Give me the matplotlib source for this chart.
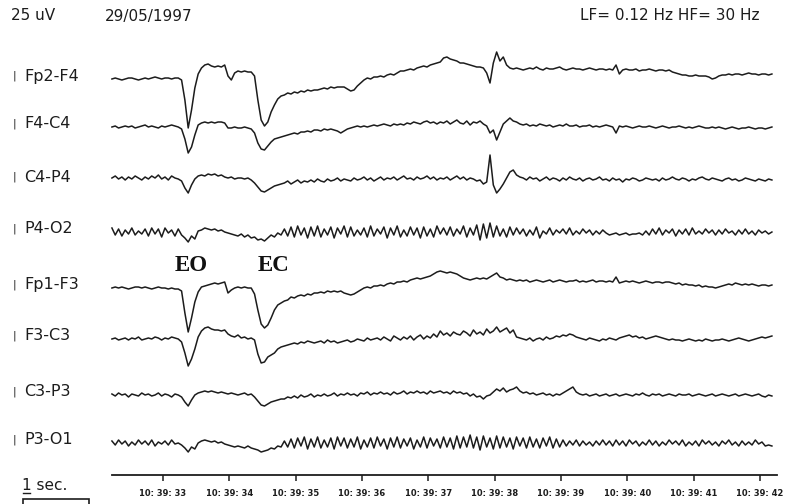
import numpy as np
import matplotlib
matplotlib.use("Agg")
import matplotlib.pyplot as plt
from matplotlib.patches import Rectangle
from matplotlib.lines import Line2D

# ---------------- data ----------------
channels = ["Fp2-F4", "F4-C4", "C4-P4", "P4-O2", "Fp1-F3", "F3-C3", "C3-P3", "P3-O1"]
t_start = 32.23        # seconds (10:39:32.23)
dt = 0.05              # sample step, s
tick_seconds = [33, 34, 35, 36, 37, 38, 39, 40, 41, 42]
tick_labels = ["10: 39: %d" % s for s in tick_seconds]
event_labels = ["EO", "EC"]
event_times = [33.42, 34.67]

fp2f4 = [0,1,0,-1,0,1,1,0,-1,0,1,0,1,2,1,0,1,1,0,1,
         1,-1,-21,-49,-31,-9,5,11,14,15,13,12,13,12,14,3,-1,6,8,7,8,7,7,3,-21,-41,-47,-43,-33,-26,-20,-17,
         -16,-14,-15,-13,-14,-12,-13,-11,-12,-11,
         -11,-10,-9,-10,-8,-9,-8,-8,
         -8,-10,-12,-11,-7,-4,-1,1,0,2,
         2,3,2,4,5,4,6,8,
         8,9,10,9,11,12,13,12,14,15,16,17,
         21,22,20,19,18,16,16,15,14,13,12,12,11,6,-4,16,27,18,22,14,
         11,10,11,10,9,10,11,10,12,10,9,11,10,10,11,12,10,9,10,11,10,10,9,10,11,10,9,10,10,9,10,
         9,14,5,
         9,10,9,9,10,8,9,9,10,9,8,9,9,8,9,
         7,6,5,4,4,3,3,4,3,3,3,2,0,1,3,4,4,5,4,5,5,4,5,6,5,5,4,5,5,4,5]

f4c4 = [0,1,-1,0,1,0,1,-1,0,1,2,0,1,0,-1,1,0,1,2,1,0,
        -2,-12,-26,-20,-8,2,4,5,4,5,4,5,5,4,-1,-1,0,-1,-1,0,-1,-2,-6,-16,-22,-23,-19,-15,-12,-11,-10,
        -9,-8,-7,-6,-7,-5,-5,-4,-5,-3,
        -3,-4,-2,-3,-2,-3,-4,-6,
        -4,-2,-1,0,1,0,1,0,1,2,
        1,2,3,2,1,3,2,3,
        2,4,3,5,4,3,5,6,4,5,3,5,
        4,6,3,5,7,4,3,6,2,5,4,6,3,
        1,-6,-3,-13,-5,3,6,9,6,5,3,
        2,3,1,2,1,3,2,1,2,0,1,2,1,3,1,1,2,0,1,1,2,0,1,0,1,2,1,
        0,-6,1,
        0,1,0,-1,0,1,0,0,1,0,-1,0,1,0,-1,0,0,1,0,-1,0,-1,0,1,0,-1,-1,0,-1,0,
        -1,-2,-1,0,-1,-2,-1,-1,0,-1,-2,-1,-1,-2,-1,0]

c4p4 = [2,4,1,3,0,3,1,4,2,0,3,1,4,2,5,1,3,0,4,2,1,
        -1,-8,-13,-5,1,4,5,4,6,5,6,4,5,3,2,3,1,2,2,1,2,0,-3,-7,-11,-12,-10,-8,-6,-5,-4,
        -3,-1,-4,-2,0,-3,-1,-2,0,-2,1,-1,-2,1,-1,0,2,-1,1,0,-1,2,0,1,3,0,2,-1,1,3,
        0,2,1,3,0,2,4,1,2,0,3,1,2,4,1,3,0,2,
        1,3,0,2,4,1,3,0,2,1,-1,0,
        -4,-2,25,-5,-13,-9,-4,2,8,10,5,3,
        2,0,3,1,2,-1,1,3,0,2,1,-1,2,0,3,1,0,2,-1,1,2,0,1,3,0,1,-1,2,0,1,
        -2,1,0,2,1,-1,0,2,1,0,1,-1,2,0,1,3,1,0,2,1,-1,1,0,2,3,1,0,2,1,0,
        -1,1,2,0,1,-1,0,2,1,0,-1,1,0,-1,1,0]

p4o2 = [4,-3,3,-4,2,-2,4,-3,1,-2,3,-4,4,-2,3,-5,4,-1,2,-4,3,
        -3,-6,-10,-4,-7,1,2,4,3,2,3,1,2,0,
        -1,-2,-3,-4,-2,-5,-3,-6,
        -5,-8,-7,-9,-6,-3,-5,-1,-3,
        3,-4,5,-5,6,-3,4,-6,5,-4,6,-5,3,-3,5,-6,4,-2,6,-5,5,-4,2,-3,4,-5,6,-4,3,-2,
        5,-6,4,-3,6,-5,2,-4,5,-3,4,-6,5,-4,3,-5,6,-2,
        4,-3,5,-4,3,-2,6,-5,4,-3,7,-8,8,-6,9,-5,6,-4,3,-5,5,-3,4,-2,
        3,-4,2,-3,5,-6,1,-2,4,-3,2,-1,3,-2,4,-3,1,-2,3,-1,2,-3,1,-2,2,-1,-3,
        -2,-1,-3,-2,-1,-3,-2,-2,-1,-3,
        1,-3,3,-2,4,-3,2,-1,3,-4,2,-2,3,-3,4,-2,1,-2,3,-1,2,-3,2,-2,3,-1,1,-3,2,-2,
        3,-2,1,-3,2,-1,1,-2,0]

fp1f3 = [0,1,0,1,0,-1,0,1,1,0,1,0,-1,0,1,0,0,-1,0,-1,-1,
         -3,-25,-44,-30,-14,-4,1,2,3,4,5,4,5,6,
         -5,-2,0,1,0,1,0,0,
         -6,-22,-36,-40,-37,-30,-22,-17,-15,
         -13,-12,-9,-10,-8,-7,-8,-6,-7,-5,
         -5,-4,-5,-3,-4,-3,-4,-3,
         -5,-6,-7,-6,-4,-2,0,1,0,2,
         2,3,2,4,5,4,6,6,
         7,6,8,9,10,9,10,11,12,14,16,17,
         16,15,16,15,14,12,10,9,8,9,10,9,10,
         9,11,13,15,11,10,8,9,8,7,8,
         7,8,6,7,8,7,6,7,8,6,7,8,7,6,7,7,8,6,7,6,7,8,6,7,7,6,7,
         6,11,5,
         6,7,6,7,6,5,6,7,6,5,6,6,5,6,6,
         5,4,5,3,4,3,3,2,3,1,2,1,1,0,1,2,3,4,3,5,4,3,4,3,4,3,2,3,3,2,3]

f3c3 = [0,1,-1,0,1,-1,1,0,2,-1,0,1,0,2,1,-1,1,0,2,1,0,
        -3,-14,-27,-20,-10,2,8,11,12,10,9,9,8,9,
        5,3,2,4,1,2,0,1,
        -1,-15,-24,-23,-18,-16,-14,-10,-8,
        -7,-6,-5,-4,-5,-3,-4,-2,-3,-4,
        -3,-2,-4,-1,-3,-2,-4,-3,-2,-1,-3,-2,0,-1,-2,1,-1,0,
        1,-1,2,0,-2,3,1,-1,2,0,3,-1,2,4,0,3,1,5,2,8,
        4,6,3,7,5,4,8,6,3,9,5,7,4,10,6,8,12,7,9,11,6,9,2,1,
        0,-1,1,-2,0,1,-1,2,0,1,3,2,4,3,5,4,2,1,0,-1,1,0,-1,-2,0,-1,1,
        0,-1,1,2,3,4,2,3,1,2,0,1,2,3,2,1,0,-1,0,-1,
        -1,-2,-1,0,-1,-2,-1,-2,0,-1,-2,-1,-1,0,-1,-2,-1,0,1,0,-1,-2,-1,0,1,2,1,2,3]

c3p3 = [1,-1,2,0,1,-2,1,0,-1,2,0,1,-1,0,2,-1,1,0,-2,1,0,
        -2,-7,-11,-5,0,2,3,4,3,4,3,2,3,2,
        1,2,1,0,1,2,0,1,
        -2,-6,-10,-11,-9,-7,-6,-5,-4,
        -4,-2,-3,-1,-3,0,-2,-1,1,-2,0,-1,1,-1,0,2,-1,1,0,2,0,1,-1,2,1,3,0,2,1,3,
        1,2,0,3,1,2,4,1,3,2,4,2,3,1,4,2,3,4,
        2,3,1,4,2,3,1,2,-1,1,-2,-1,-4,-1,0,3,6,4,7,3,5,6,8,4,
        2,3,1,2,0,1,2,0,1,-1,1,0,2,4,6,8,3,1,0,1,-1,0,1,-1,0,1,-1,
        0,1,-1,0,1,0,-1,1,0,2,0,-1,1,0,1,-1,0,1,0,-1,1,0,0,1,-1,0,1,0,-1,0,
        1,-1,0,1,0,-1,0,1,-1,0,1,0,-1,0,1,-1,-2,0,-1]

p3o1 = [2,-2,3,-1,2,-3,1,-2,3,-1,2,-2,3,-3,1,-1,2,-2,3,-1,0,
        -2,-5,-9,-4,-6,0,2,3,2,1,2,0,1,-1,
        -2,-3,-4,-3,-4,-5,-3,-5,
        -6,-7,-9,-8,-7,-5,-6,-3,-4,
        2,-4,4,-5,5,-3,6,-6,4,-4,6,-5,3,-4,5,-6,6,-3,5,-5,4,-4,6,-6,3,-4,5,-5,6,-3,
        4,-6,5,-4,6,-5,4,-3,5,-6,3,-4,6,-5,5,-3,4,-5,
        6,-4,5,-6,7,-5,6,-4,8,-5,6,-7,7,-4,5,-6,7,-5,6,-4,5,-6,6,-3,
        5,-5,6,-4,4,-5,5,-3,6,-5,4,-4,3,-3,2,-2,3,-3,2,-2,1,-3,2,-2,3,-2,2,
        -3,3,-2,2,-3,3,-1,2,-3,1,-2,3,-2,2,-3,1,-2,3,-1,2,-2,3,-3,1,-2,2,-3,3,-1,2,
        -2,1,-3,2,-1,3,-2,1,-3,2,-2,1,-2,3,-1,1,-3,-2,-3]

signals = [fp2f4, f4c4, c4p4, p4o2, fp1f3, f3c3, c3p3, p3o1]

# ---------------- layout (pixel based) ----------------
W, H = 785, 504
baselines = [79, 127, 180, 232, 288, 339, 395, 443]   # channel rows, px from top
px_per_s = 66.33
x_of_33 = 163.0
ax_left_px, ax_right_px = 112, 777
ax_bottom_px, ax_top_px = 475, 40

def fx(x):
    return x / W

def fy(y):
    return 1 - y / H

fig = plt.figure(figsize=(W / 100, H / 100), dpi=100)
fig.patch.set_facecolor("white")
ax = fig.add_axes([fx(ax_left_px), fy(ax_bottom_px),
                   (ax_right_px - ax_left_px) / W, (ax_bottom_px - ax_top_px) / H])
ax.set_xlim(33 + (ax_left_px - x_of_33) / px_per_s, 33 + (ax_right_px - x_of_33) / px_per_s)
ax.set_ylim(ax_bottom_px, ax_top_px)

ink = "#1c1c1c"
for sig, base in zip(signals, baselines):
    s = np.asarray(sig, dtype=float)
    t = t_start + dt * np.arange(len(s))
    ax.plot(t, base - s, color=ink, lw=1.1, clip_on=False, solid_joinstyle="round")

for sp in ["top", "right", "left"]:
    ax.spines[sp].set_visible(False)
ax.spines["bottom"].set_linewidth(1.3)
ax.spines["bottom"].set_color(ink)
ax.set_yticks([])
ax.set_xticks(tick_seconds)
ax.set_xticklabels(tick_labels, fontsize=6, fontweight="bold", family="DejaVu Sans")
ax.tick_params(axis="x", direction="out", length=4, width=1.1, color=ink, pad=6, labelcolor=ink)
ax.patch.set_alpha(0)

# channel labels
sans = "DejaVu Sans"
for name, base in zip(channels, baselines):
    fig.text(fx(13), fy(base - 3), "|", fontsize=7.5, family=sans, color=ink, va="center", ha="left")
    fig.text(fx(24), fy(base - 3), name, fontsize=11.5, family=sans, color=ink, va="center", ha="left")

# header
fig.text(fx(11), fy(16), "25 uV", fontsize=11, family=sans, color=ink, va="center", ha="left")
fig.text(fx(105), fy(16), "29/05/1997", fontsize=11, family=sans, color=ink, va="center", ha="left")
fig.text(fx(759), fy(15), "LF= 0.12 Hz HF= 30 Hz", fontsize=11, family=sans, color=ink,
         va="center", ha="right")

# event labels
for lab, te in zip(event_labels, event_times):
    ax.text(te, 265, lab, fontsize=16.5, fontweight="bold", family="Liberation Serif",
            color="#111111", ha="center", va="center", clip_on=False)

# 1 sec scale bar
fig.text(fx(22), fy(486), "1 sec.", fontsize=11, family=sans, color=ink, va="center", ha="left")
fig.add_artist(Line2D([fx(23), fx(30)], [fy(493), fy(493)], color=ink, lw=1.0))
fig.add_artist(Rectangle((fx(23), fy(520)), px_per_s / W, (520 - 499) / H,
                         fill=False, edgecolor=ink, lw=1.2, transform=fig.transFigure))

fig.savefig("out.png", dpi=100, facecolor="white")
